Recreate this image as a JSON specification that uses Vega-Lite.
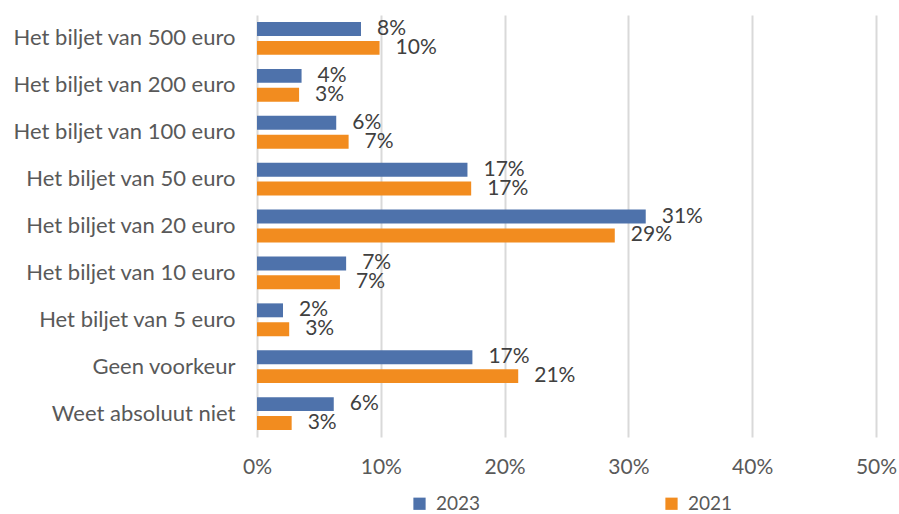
{
  "$schema": "https://vega.github.io/schema/vega-lite/v6.json",
  "width": 619,
  "height": 422,
  "autosize": {"type": "none"},
  "padding": {"left": 257, "top": 15, "right": 23, "bottom": 77},
  "background": "white",
  "config": {"view": {"stroke": null}, "font": "Lato"},
  "data": {
    "values": [
      {"cat": "Het biljet van 500 euro", "year": "2023", "value": 0.084},
      {"cat": "Het biljet van 500 euro", "year": "2021", "value": 0.099},
      {"cat": "Het biljet van 200 euro", "year": "2023", "value": 0.036},
      {"cat": "Het biljet van 200 euro", "year": "2021", "value": 0.034},
      {"cat": "Het biljet van 100 euro", "year": "2023", "value": 0.064},
      {"cat": "Het biljet van 100 euro", "year": "2021", "value": 0.074},
      {"cat": "Het biljet van 50 euro", "year": "2023", "value": 0.170},
      {"cat": "Het biljet van 50 euro", "year": "2021", "value": 0.173},
      {"cat": "Het biljet van 20 euro", "year": "2023", "value": 0.314},
      {"cat": "Het biljet van 20 euro", "year": "2021", "value": 0.289},
      {"cat": "Het biljet van 10 euro", "year": "2023", "value": 0.072},
      {"cat": "Het biljet van 10 euro", "year": "2021", "value": 0.067},
      {"cat": "Het biljet van 5 euro", "year": "2023", "value": 0.021},
      {"cat": "Het biljet van 5 euro", "year": "2021", "value": 0.026},
      {"cat": "Geen voorkeur", "year": "2023", "value": 0.174},
      {"cat": "Geen voorkeur", "year": "2021", "value": 0.211},
      {"cat": "Weet absoluut niet", "year": "2023", "value": 0.062},
      {"cat": "Weet absoluut niet", "year": "2021", "value": 0.028}
    ]
  },
  "encoding": {
    "y": {
      "field": "cat",
      "type": "nominal",
      "sort": null,
      "scale": {"paddingInner": 0.3, "paddingOuter": 0.15},
      "axis": {"title": null, "domain": false, "ticks": false, "labelFontSize": 22, "labelColor": "#595959", "labelPadding": 22, "labelLimit": 300}
    },
    "yOffset": {
      "field": "year",
      "type": "nominal",
      "sort": ["2023", "2021"],
      "scale": {"paddingInner": 0.263, "paddingOuter": 0}
    },
    "x": {
      "field": "value",
      "type": "quantitative",
      "scale": {"domain": [0, 0.5]},
      "axis": {"format": ".0%", "values": [0, 0.1, 0.2, 0.3, 0.4, 0.5], "title": null, "domain": false, "ticks": false, "grid": true, "gridColor": "#D9D9D9", "gridWidth": 2, "labelFontSize": 21, "labelColor": "#595959", "labelPadding": 19, "labelFlush": false, "labelOverlap": false}
    }
  },
  "layer": [
    {
      "mark": {"type": "bar"},
      "encoding": {
        "color": {
          "field": "year",
          "type": "nominal",
          "scale": {"domain": ["2023", "2021"], "range": ["#4E72AB", "#F28C1F"]},
          "legend": {"orient": "none", "legendX": 153, "legendY": 479, "direction": "horizontal", "title": null, "symbolType": "square", "symbolSize": 150, "labelFontSize": 19, "labelColor": "#595959", "columnPadding": 181, "labelOffset": 7, "padding": 0, "symbolStrokeWidth": 0}
        }
      }
    },
    {
      "mark": {"type": "text", "align": "left", "dx": 16, "fontSize": 21, "color": "#404040"},
      "encoding": {"text": {"field": "value", "type": "quantitative", "format": ".0%"}}
    }
  ]
}
